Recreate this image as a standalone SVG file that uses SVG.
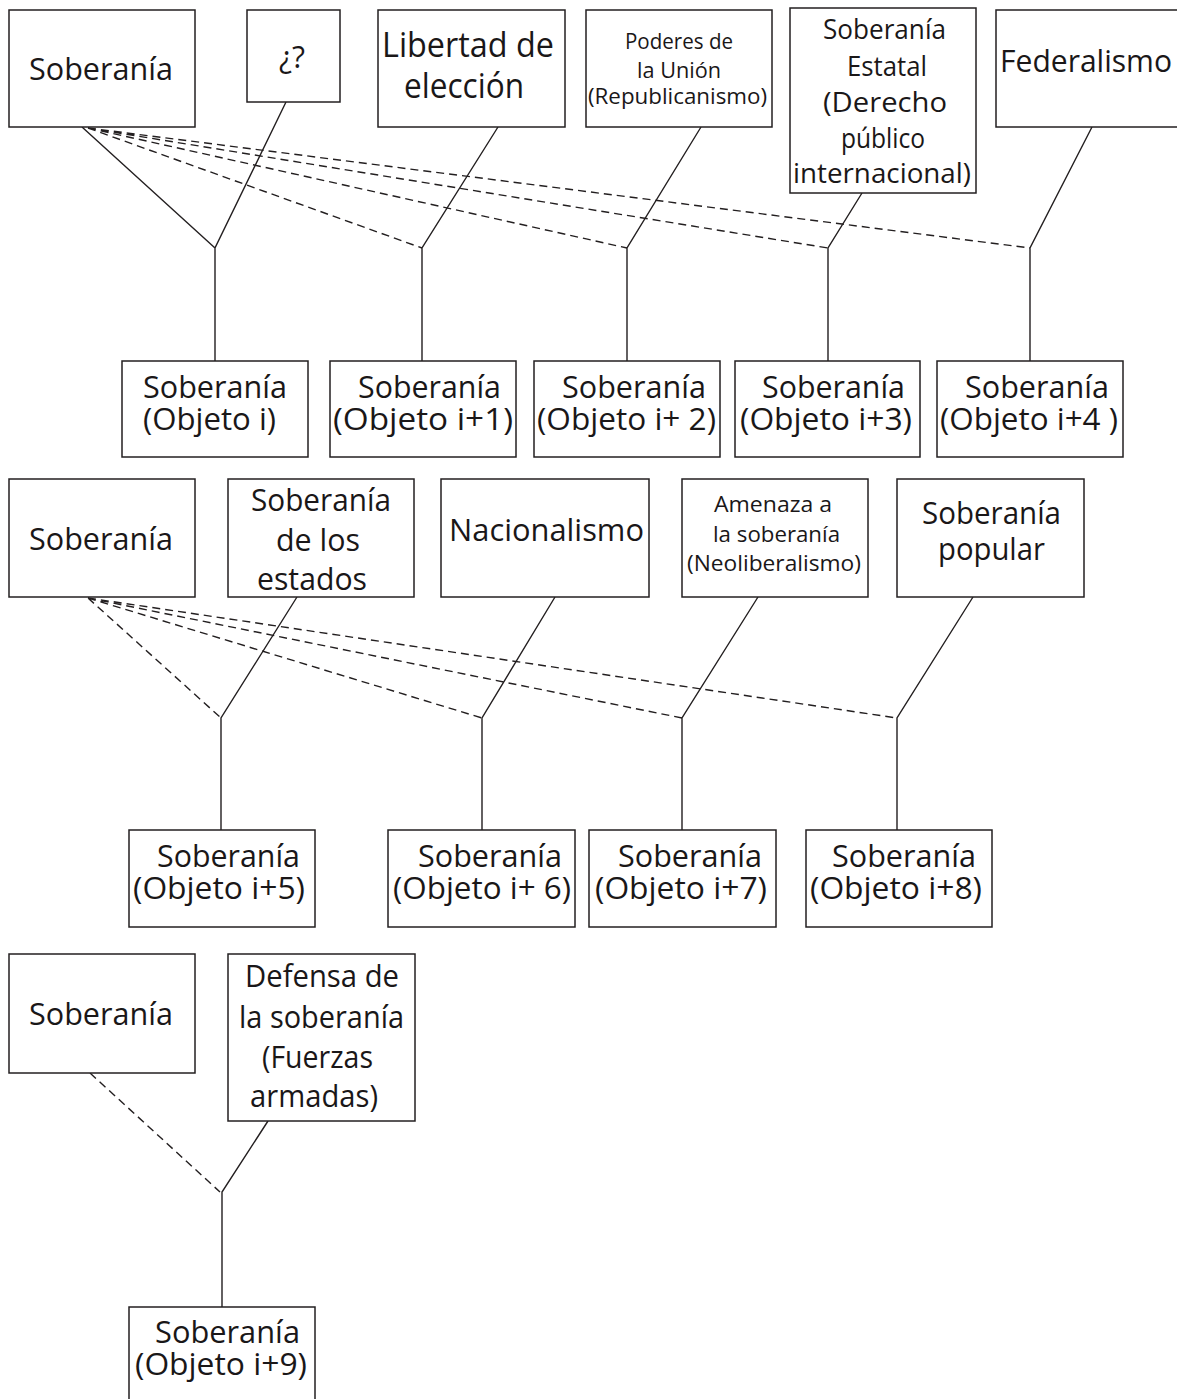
<svg xmlns="http://www.w3.org/2000/svg" width="1177" height="1399" viewBox="0 0 1177 1399">
  <style>
    .box { fill: #ffffff; stroke: #231f20; stroke-width: 1.5; }
    .ln { fill: none; stroke: #231f20; stroke-width: 1.4; }
    .dash { stroke-dasharray: 8 5; }
    text { font-family: "Open Sans", "Noto Sans", "Liberation Sans", sans-serif; fill: #1a1718; }
    .l { font-size: 31px; }
    .xl { font-size: 35px; }
    .m { font-size: 28px; }
    .s { font-size: 22px; }
  </style>
  <rect width="1177" height="1399" fill="#ffffff"/>

  <!-- connectors -->
  <g id="connectors">
    <!-- block 1 -->
    <path class="ln" d="M82,127 L215,248 M286,102 L215,248 V361"/>
    <path class="ln dash" d="M88,128 L422,248 M88,128 L627,248 M88,128 L828,248 M88,128 L1030,248"/>
    <path class="ln" d="M498,127 L422,248 V361"/>
    <path class="ln" d="M701,127 L627,248 V361"/>
    <path class="ln" d="M862,193 L828,248 V361"/>
    <path class="ln" d="M1092,127 L1030,248 V361"/>
    <!-- block 2 -->
    <path class="ln dash" d="M88,598 L221,718 M88,598 L482,718 M88,598 L682,718 M88,598 L897,718"/>
    <path class="ln" d="M297,597 L221,718 V830"/>
    <path class="ln" d="M555,597 L482,718 V830"/>
    <path class="ln" d="M758,597 L682,718 V830"/>
    <path class="ln" d="M973,597 L897,718 V830"/>
    <!-- block 3 -->
    <path class="ln dash" d="M90,1073 L220,1192"/>
    <path class="ln" d="M268,1121 L222,1192 V1307"/>
  </g>

  <!-- block 1: sources -->
  <g id="soberania-1">
    <rect class="box" x="9" y="10" width="186" height="117"/>
    <text class="l" x="29" y="80" textLength="144" lengthAdjust="spacingAndGlyphs">Soberanía</text>
  </g>
  <g id="interrogante">
    <rect class="box" x="247" y="10" width="93" height="92"/>
    <text class="l" x="279" y="68" textLength="26" lengthAdjust="spacingAndGlyphs">¿?</text>
  </g>
  <g id="libertad-eleccion">
    <rect class="box" x="378" y="10" width="187" height="117"/>
    <text class="xl" x="382" y="57" textLength="172" lengthAdjust="spacingAndGlyphs">Libertad de</text>
    <text class="xl" x="404" y="98" textLength="120" lengthAdjust="spacingAndGlyphs">elección</text>
  </g>
  <g id="poderes-union">
    <rect class="box" x="586" y="10" width="186" height="117"/>
    <text class="s" x="625" y="49" textLength="108" lengthAdjust="spacingAndGlyphs">Poderes de</text>
    <text class="s" x="637" y="78" textLength="84" lengthAdjust="spacingAndGlyphs">la Unión</text>
    <text class="s" x="588" y="104" textLength="179" lengthAdjust="spacingAndGlyphs">(Republicanismo)</text>
  </g>
  <g id="soberania-estatal">
    <rect class="box" x="790" y="8" width="186" height="185"/>
    <text class="m" x="823" y="39" textLength="123" lengthAdjust="spacingAndGlyphs">Soberanía</text>
    <text class="m" x="847" y="76" textLength="80" lengthAdjust="spacingAndGlyphs">Estatal</text>
    <text class="m" x="823" y="112" textLength="124" lengthAdjust="spacingAndGlyphs">(Derecho</text>
    <text class="m" x="841" y="148" textLength="84" lengthAdjust="spacingAndGlyphs">público</text>
    <text class="m" x="793" y="183" textLength="178" lengthAdjust="spacingAndGlyphs">internacional)</text>
  </g>
  <g id="federalismo">
    <rect class="box" x="996" y="10" width="190" height="117"/>
    <text class="l" x="1000" y="72" textLength="172" lengthAdjust="spacingAndGlyphs">Federalismo</text>
  </g>

  <!-- block 1: objects -->
  <g id="objeto-i">
    <rect class="box" x="122" y="361" width="186" height="96"/>
    <text class="l" x="143" y="398" textLength="144" lengthAdjust="spacingAndGlyphs">Soberanía</text>
    <text class="l" x="143" y="430" textLength="133" lengthAdjust="spacingAndGlyphs">(Objeto i)</text>
  </g>
  <g id="objeto-i1">
    <rect class="box" x="330" y="361" width="186" height="96"/>
    <text class="l" x="358" y="398" textLength="143" lengthAdjust="spacingAndGlyphs">Soberanía</text>
    <text class="l" x="333" y="430" textLength="180" lengthAdjust="spacingAndGlyphs">(Objeto i+1)</text>
  </g>
  <g id="objeto-i2">
    <rect class="box" x="534" y="361" width="186" height="96"/>
    <text class="l" x="562" y="398" textLength="144" lengthAdjust="spacingAndGlyphs">Soberanía</text>
    <text class="l" x="537" y="430" textLength="179" lengthAdjust="spacingAndGlyphs">(Objeto i+ 2)</text>
  </g>
  <g id="objeto-i3">
    <rect class="box" x="735" y="361" width="185" height="96"/>
    <text class="l" x="762" y="398" textLength="143" lengthAdjust="spacingAndGlyphs">Soberanía</text>
    <text class="l" x="740" y="430" textLength="172" lengthAdjust="spacingAndGlyphs">(Objeto i+3)</text>
  </g>
  <g id="objeto-i4">
    <rect class="box" x="937" y="361" width="186" height="96"/>
    <text class="l" x="965" y="398" textLength="144" lengthAdjust="spacingAndGlyphs">Soberanía</text>
    <text class="l" x="940" y="430" textLength="178" lengthAdjust="spacingAndGlyphs">(Objeto i+4 )</text>
  </g>

  <!-- block 2: sources -->
  <g id="soberania-2">
    <rect class="box" x="9" y="479" width="186" height="118"/>
    <text class="l" x="29" y="550" textLength="144" lengthAdjust="spacingAndGlyphs">Soberanía</text>
  </g>
  <g id="soberania-estados">
    <rect class="box" x="228" y="479" width="186" height="118"/>
    <text class="l" x="251" y="511" textLength="140" lengthAdjust="spacingAndGlyphs">Soberanía</text>
    <text class="l" x="276" y="551" textLength="84" lengthAdjust="spacingAndGlyphs">de los</text>
    <text class="l" x="257" y="590" textLength="110" lengthAdjust="spacingAndGlyphs">estados</text>
  </g>
  <g id="nacionalismo">
    <rect class="box" x="441" y="479" width="208" height="118"/>
    <text class="l" x="449" y="541" textLength="195" lengthAdjust="spacingAndGlyphs">Nacionalismo</text>
  </g>
  <g id="amenaza-soberania">
    <rect class="box" x="682" y="479" width="186" height="118"/>
    <text class="s" x="714" y="512" textLength="118" lengthAdjust="spacingAndGlyphs">Amenaza a</text>
    <text class="s" x="713" y="542" textLength="127" lengthAdjust="spacingAndGlyphs">la soberanía</text>
    <text class="s" x="687" y="571" textLength="174" lengthAdjust="spacingAndGlyphs">(Neoliberalismo)</text>
  </g>
  <g id="soberania-popular">
    <rect class="box" x="897" y="479" width="187" height="118"/>
    <text class="l" x="922" y="524" textLength="139" lengthAdjust="spacingAndGlyphs">Soberanía</text>
    <text class="l" x="938" y="560" textLength="107" lengthAdjust="spacingAndGlyphs">popular</text>
  </g>

  <!-- block 2: objects -->
  <g id="objeto-i5">
    <rect class="box" x="129" y="830" width="186" height="97"/>
    <text class="l" x="157" y="867" textLength="143" lengthAdjust="spacingAndGlyphs">Soberanía</text>
    <text class="l" x="133" y="899" textLength="172" lengthAdjust="spacingAndGlyphs">(Objeto i+5)</text>
  </g>
  <g id="objeto-i6">
    <rect class="box" x="388" y="830" width="187" height="97"/>
    <text class="l" x="418" y="867" textLength="144" lengthAdjust="spacingAndGlyphs">Soberanía</text>
    <text class="l" x="393" y="899" textLength="178" lengthAdjust="spacingAndGlyphs">(Objeto i+ 6)</text>
  </g>
  <g id="objeto-i7">
    <rect class="box" x="589" y="830" width="187" height="97"/>
    <text class="l" x="618" y="867" textLength="144" lengthAdjust="spacingAndGlyphs">Soberanía</text>
    <text class="l" x="595" y="899" textLength="172" lengthAdjust="spacingAndGlyphs">(Objeto i+7)</text>
  </g>
  <g id="objeto-i8">
    <rect class="box" x="806" y="830" width="186" height="97"/>
    <text class="l" x="832" y="867" textLength="144" lengthAdjust="spacingAndGlyphs">Soberanía</text>
    <text class="l" x="810" y="899" textLength="172" lengthAdjust="spacingAndGlyphs">(Objeto i+8)</text>
  </g>

  <!-- block 3 -->
  <g id="soberania-3">
    <rect class="box" x="9" y="954" width="186" height="119"/>
    <text class="l" x="29" y="1025" textLength="144" lengthAdjust="spacingAndGlyphs">Soberanía</text>
  </g>
  <g id="defensa-soberania">
    <rect class="box" x="228" y="954" width="187" height="167"/>
    <text class="l" x="245" y="987" textLength="154" lengthAdjust="spacingAndGlyphs">Defensa de</text>
    <text class="l" x="239" y="1028" textLength="165" lengthAdjust="spacingAndGlyphs">la soberanía</text>
    <text class="l" x="262" y="1068" textLength="111" lengthAdjust="spacingAndGlyphs">(Fuerzas</text>
    <text class="l" x="250" y="1107" textLength="128" lengthAdjust="spacingAndGlyphs">armadas)</text>
  </g>
  <g id="objeto-i9">
    <rect class="box" x="129" y="1307" width="186" height="100"/>
    <text class="l" x="155" y="1343" textLength="145" lengthAdjust="spacingAndGlyphs">Soberanía</text>
    <text class="l" x="135" y="1375" textLength="172" lengthAdjust="spacingAndGlyphs">(Objeto i+9)</text>
  </g>
</svg>
